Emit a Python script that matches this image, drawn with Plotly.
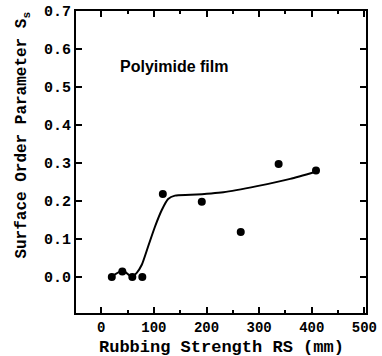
import plotly.graph_objects as go

# measured points
rs_points = [20, 40, 59, 78, 117, 191, 265, 337, 408]
s_points = [0.0, 0.014, 0.0, 0.0, 0.218, 0.198, 0.118, 0.297, 0.280]

# fitted curve
rs_curve = [19, 41, 57, 67, 77, 89, 102, 115, 127, 140, 170, 232, 296, 359, 407]
s_curve = [0.0, 0.017, 0.001, 0.010, 0.032, 0.080, 0.132, 0.176, 0.205, 0.214, 0.216, 0.223, 0.239, 0.258, 0.277]

x_ticks = [0, 100, 200, 300, 400, 500]
y_ticks = [0.0, 0.1, 0.2, 0.3, 0.4, 0.5, 0.6, 0.7]

x_title = "Rubbing Strength RS (mm)"
y_title = "Surface Order Parameter S<sub>s</sub>"
label_text = "Polyimide film"

mono = "Liberation Mono"

fig = go.Figure()
fig.add_trace(go.Scatter(x=rs_curve, y=s_curve, mode="lines",
                         line=dict(color="black", width=2, shape="spline", smoothing=0.6),
                         hoverinfo="skip", showlegend=False))
fig.add_trace(go.Scatter(x=rs_points, y=s_points, mode="markers",
                         marker=dict(color="black", size=8),
                         showlegend=False))

fig.add_annotation(x=32, y=0.555, xref="x", yref="y", text=label_text,
                   showarrow=False, xanchor="left", yanchor="middle",
                   font=dict(family="Liberation Sans", size=16, color="black", weight="bold"))
fig.add_annotation(x=0.5, y=-0.1126, xref="paper", yref="paper", text=x_title,
                   showarrow=False, xanchor="center", yanchor="middle",
                   font=dict(family=mono, size=17, color="black", weight="bold"))
fig.add_annotation(x=-0.1845, y=0.589, xref="paper", yref="paper", text=y_title,
                   textangle=-90, showarrow=False, xanchor="center", yanchor="middle",
                   font=dict(family=mono, size=16, color="black", weight="bold"))

fig.update_layout(
    width=382, height=356,
    margin=dict(l=76, r=16, t=11, b=43),
    paper_bgcolor="white", plot_bgcolor="white",
    font=dict(family=mono, color="black", size=15, weight="bold"),
)
fig.update_xaxes(range=[-48, 503], tickvals=x_ticks, ticktext=[str(v) for v in x_ticks],
                 automargin=False,
                 ticks="inside", ticklen=6, tickwidth=2, tickcolor="black",
                 minor=dict(tickvals=[50, 150, 250, 350, 450], ticks="inside", ticklen=3, tickwidth=1.5, tickcolor="black"),
                 showline=True, linewidth=2, linecolor="black", mirror="allticks",
                 showgrid=False, zeroline=False,
                 tickfont=dict(family=mono, size=14, weight="bold"))
fig.update_yaxes(range=[-0.095, 0.7], tickvals=y_ticks, ticktext=["%.1f" % v for v in y_ticks],
                 automargin=False,
                 ticks="inside", ticklen=6, tickwidth=2, tickcolor="black",
                 showline=True, linewidth=2, linecolor="black", mirror="allticks",
                 showgrid=False, zeroline=False,
                 tickfont=dict(family=mono, size=15, weight="bold"))

fig.write_html("out.html", config={"displayModeBar": False},
               post_script="document.body.style.margin='0';document.body.style.padding='0';")
